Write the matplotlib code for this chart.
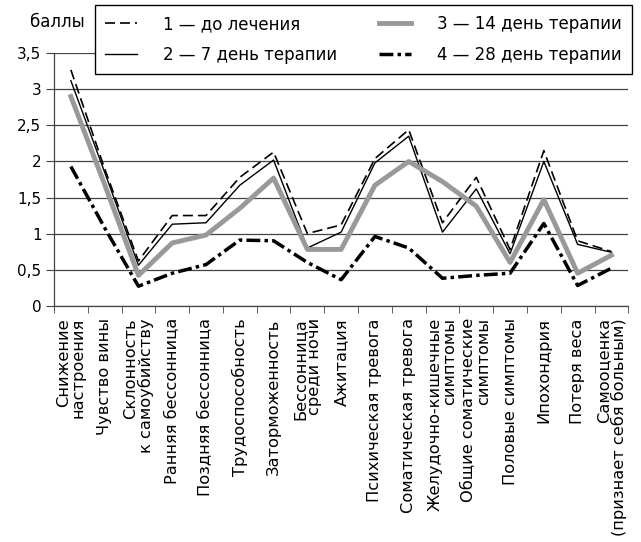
import numpy as np
import matplotlib
matplotlib.use('Agg')
import matplotlib.pyplot as plt
from matplotlib.ticker import FixedLocator, FuncFormatter

plt.rcParams['font.family'] = ['DejaVu Sans']

categories = [
    'Снижение\nнастроения', 'Чувство вины', 'Склонность\nк самоубийству',
    'Ранняя бессонница', 'Поздняя бессонница', 'Трудоспособность',
    'Заторможенность', 'Бессонница\nсреди ночи', 'Ажитация',
    'Психическая тревога', 'Соматическая тревога',
    'Желудочно-кишечные\nсимптомы', 'Общие соматические\nсимптомы',
    'Половые симптомы', 'Ипохондрия', 'Потеря веса',
    'Самооценка\n(признает себя больным)',
]

before = [3.27, 1.90, 0.62, 1.25, 1.25, 1.78, 2.13, 1.00, 1.12, 2.04, 2.44,
          1.15, 1.78, 0.78, 2.15, 0.90, 0.75]
day7 = [3.12, 1.85, 0.56, 1.13, 1.15, 1.67, 2.02, 0.80, 1.02, 1.98, 2.35,
        1.02, 1.62, 0.72, 2.00, 0.85, 0.74]
day14 = [2.90, 1.68, 0.42, 0.87, 0.98, 1.35, 1.77, 0.78, 0.78, 1.67, 2.00,
         1.72, 1.38, 0.60, 1.47, 0.45, 0.70]
day28 = [1.93, 1.08, 0.27, 0.45, 0.57, 0.91, 0.90, 0.60, 0.36, 0.96, 0.80,
         0.38, 0.42, 0.45, 1.14, 0.28, 0.52]

legend_labels = ['1 — до лечения', '2 — 7 день терапии',
                 '3 — 14 день терапии', '4 — 28 день терапии']

fig = plt.figure(figsize=(6.41, 5.42), dpi=100)
ax = fig.add_axes([0.0842, 0.436, 0.896, 0.4657])

x = np.arange(len(categories))
l1, = ax.plot(x, before, color='black', lw=1.2, linestyle=(0, (6, 3)))
l2, = ax.plot(x, day7, color='black', lw=1.0)
l3, = ax.plot(x, day14, color='#999999', lw=3.5)
l4, = ax.plot(x, day28, color='black', lw=2.5, linestyle=(0, (4, 1.2, 1, 1.2)))

ax.set_xlim(-0.5, len(categories) - 0.5)
ax.set_ylim(0, 3.5)
ax.set_yticks(np.arange(0, 3.51, 0.5))
ax.yaxis.set_major_formatter(FuncFormatter(lambda v, p: f'{v:g}'.replace('.', ',')))
ax.grid(axis='y', color='#444444', lw=0.9)
ax.set_axisbelow(True)

ax.set_xticks(x)
ax.set_xticklabels(categories, rotation=90, multialignment='right', va='top',
                   ha='center', linespacing=0.95)
ax.xaxis.set_minor_locator(FixedLocator(np.arange(-0.5, len(categories), 1.0)))
ax.tick_params(axis='x', which='major', length=0, pad=9, labelsize=11.7)
ax.tick_params(axis='x', which='minor', length=5, direction='out', color='#444444')
ax.tick_params(axis='y', length=6, direction='out', color='#444444', labelsize=11, pad=3)

for s in ['top', 'right']:
    ax.spines[s].set_visible(False)
for s in ['left', 'bottom']:
    ax.spines[s].set_color('#444444')
    ax.spines[s].set_linewidth(0.9)

fig.text(0.047, 0.959, 'баллы', fontsize=12, ha='left', va='center')

leg = fig.legend([l1, l2, l3, l4], legend_labels, ncol=2, loc='upper left',
                 bbox_to_anchor=(95 / 641, 1 - 5 / 542), borderaxespad=0,
                 fontsize=12, frameon=True, fancybox=False, edgecolor='black',
                 framealpha=1, handlelength=1.9, handletextpad=1.6,
                 columnspacing=2.5, borderpad=0.6, labelspacing=0.78)
leg.get_frame().set_linewidth(1.0)

fig.savefig('out.png', dpi=100)
